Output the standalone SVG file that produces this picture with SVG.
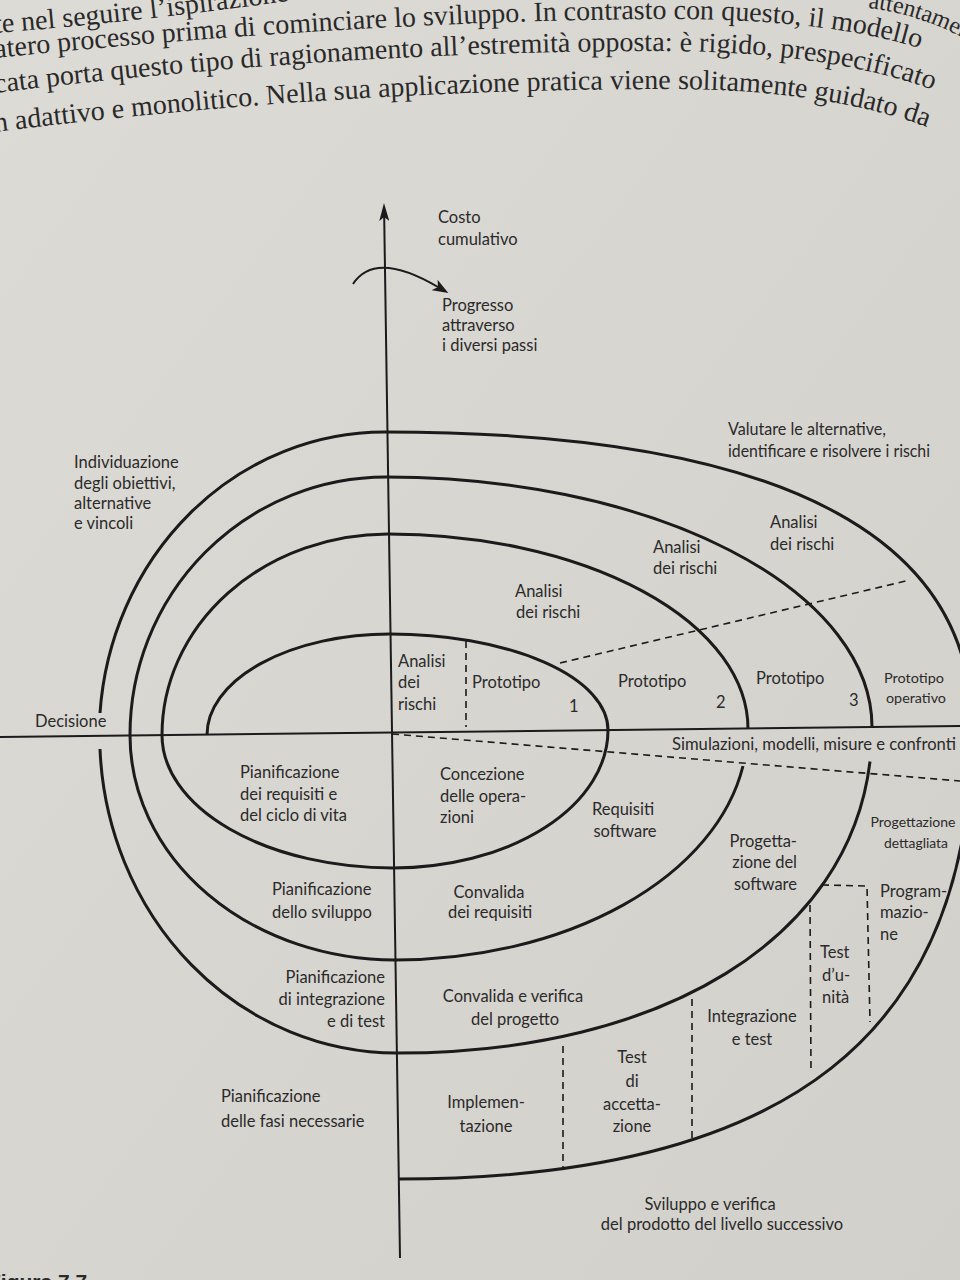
<svg xmlns="http://www.w3.org/2000/svg" width="960" height="1280" viewBox="0 0 960 1280">
<defs>
<style>
.spiral{fill:none;stroke:#1c1b1b;stroke-width:3}
.axis{fill:none;stroke:#1c1b1b;stroke-width:2}
.dash{fill:none;stroke:#1c1b1b;stroke-width:1.6;stroke-dasharray:7 5}
.lbl{font-family:Lato,"Open Sans","DejaVu Sans",sans-serif;font-size:16.5px;fill:#2b2a2a}
.sm{font-size:14px}
.mid{text-anchor:middle}
.end{text-anchor:end}
.book{font-family:"Liberation Serif","DejaVu Serif",serif;font-size:28px;fill:#2a2929}
.fig{font-family:"Liberation Sans",sans-serif;font-weight:bold;font-size:21px;fill:#2a2929}
</style>
<linearGradient id="paper" x1="0" y1="0" x2="1" y2="1">
<stop offset="0" stop-color="#dddbd6"/>
<stop offset="1" stop-color="#d2d0cb"/>
</linearGradient>
<marker id="axhead" viewBox="0 0 18 10" markerWidth="18" markerHeight="10" refX="4" refY="5" orient="auto" markerUnits="userSpaceOnUse">
<path d="M0,0 L18,5 L0,10 L4,5 z" fill="#1c1b1b"/>
</marker>
<marker id="cvhead" viewBox="0 0 16 12" markerWidth="16" markerHeight="12" refX="4" refY="6" orient="auto" markerUnits="userSpaceOnUse">
<path d="M0,0 L16,6 L0,12 L4,6 z" fill="#1c1b1b"/>
</marker>
<path id="bl1" d="M-5,33 Q150,21 330,-5"/>
<path id="bl1r" d="M868,8 Q925,14 985,50"/>
<path id="bl2" d="M-5,58 Q350,22 650,19 Q880,17 975,72"/>
<path id="bl3" d="M-5,93 Q330,52 650,51 Q860,50 975,108"/>
<path id="bl4" d="M-5,132 Q330,90 660,89 Q860,88 975,148"/>
</defs>
<rect width="960" height="1280" fill="url(#paper)"/>

<g id="book-text" class="book">
<text><textPath href="#bl1">te nel seguire l’ispirazione</textPath></text>
<text style="font-size:24px"><textPath href="#bl1r">attentamente</textPath></text>
<text><textPath href="#bl2">atero processo prima di cominciare lo sviluppo. In contrasto con questo, il modello</textPath></text>
<text><textPath href="#bl3">cata porta questo tipo di ragionamento all’estremità opposta: è rigido, prespecificato</textPath></text>
<text><textPath href="#bl4">n adattivo e monolitico. Nella sua applicazione pratica viene solitamente guidato da</textPath></text>
</g>

<g id="axes">
<line class="axis" x1="0" y1="737" x2="960" y2="726"/>
<line class="axis" x1="400" y1="1258" x2="384.2" y2="217" marker-end="url(#axhead)"/>
<path class="axis" d="M353,284 Q375,250 438,287" stroke-width="2.5" marker-end="url(#cvhead)"/>
</g>

<g id="spiral">
<path class="spiral" d="M207,735 A183,101 0 0 1 390,634 A218,96 0 0 1 608,730 A215,138 0 0 1 393,868 A231,133 0 0 1 162,735 A226,201 0 0 1 388,534 A360,195 0 0 1 748,729"/>
<path class="spiral" d="M743,766 A353,231 0 0 1 395,960 A265,225 0 0 1 130,735 A256,258 0 0 1 386,477 A486,250 0 0 1 872,727"/>
<path class="spiral" d="M870,761.5 C848.9,937.8 664.9,1053 397,1053 A297,318 0 0 1 100,749"/>
<path class="spiral" d="M100,713 A285,303 0 0 1 385,432 C808,432 972,550 972,727 C972,1034 788,1179 398,1179"/>
</g>

<g id="dividers">
<line class="dash" x1="560" y1="663" x2="910" y2="580"/>
<line class="dash" x1="392" y1="734" x2="960" y2="781"/>
<line class="dash" x1="466" y1="641" x2="466" y2="727"/>
<line class="dash" x1="563" y1="1046" x2="563" y2="1168"/>
<line class="dash" x1="692" y1="999" x2="692" y2="1138"/>
<line class="dash" x1="810" y1="905" x2="811" y2="1071"/>
<path class="dash" d="M822,885 L867,886 L870,1022"/>
</g>

<g id="label-costo" class="lbl"><text x="438" y="223">Costo</text><text x="438" y="245">cumulativo</text></g>
<g id="label-progresso" class="lbl"><text x="442" y="311">Progresso</text><text x="442" y="331">attraverso</text><text x="442" y="351">i diversi passi</text></g>
<g id="label-individuazione" class="lbl"><text x="74" y="468">Individuazione</text><text x="74" y="489">degli obiettivi,</text><text x="74" y="509">alternative</text><text x="74" y="529">e vincoli</text></g>
<g id="label-valutare" class="lbl"><text x="728" y="435" textLength="158" lengthAdjust="spacingAndGlyphs">Valutare le alternative,</text><text x="728" y="457" textLength="202" lengthAdjust="spacingAndGlyphs">identificare e risolvere i rischi</text></g>
<g id="label-analisi-4" class="lbl"><text x="770" y="528">Analisi</text><text x="770" y="550">dei rischi</text></g>
<g id="label-analisi-3" class="lbl"><text x="653" y="553">Analisi</text><text x="653" y="574">dei rischi</text></g>
<g id="label-analisi-2" class="lbl"><text x="515" y="597">Analisi</text><text x="516" y="618">dei rischi</text></g>
<g id="label-analisi-1" class="lbl"><text x="398" y="667">Analisi</text><text x="398" y="688">dei</text><text x="398" y="710">rischi</text></g>
<g id="label-prototipo-1" class="lbl"><text x="472" y="688">Prototipo</text><text x="569" y="712">1</text></g>
<g id="label-prototipo-2" class="lbl"><text x="618" y="687">Prototipo</text><text x="716" y="708">2</text></g>
<g id="label-prototipo-3" class="lbl"><text x="756" y="684">Prototipo</text><text x="849" y="706">3</text></g>
<g id="label-prototipo-operativo" class="lbl sm"><text class="mid" x="914" y="683" textLength="60" lengthAdjust="spacingAndGlyphs">Prototipo</text><text class="mid" x="916" y="703" textLength="60" lengthAdjust="spacingAndGlyphs">operativo</text></g>
<g id="label-simulazioni" class="lbl"><text x="672" y="750" textLength="284" lengthAdjust="spacingAndGlyphs">Simulazioni, modelli, misure e confronti</text></g>
<g id="label-decisione" class="lbl"><text x="35" y="727">Decisione</text></g>
<g id="label-pian-requisiti" class="lbl"><text x="240" y="778">Pianificazione</text><text x="240" y="800">dei requisiti e</text><text x="240" y="821">del ciclo di vita</text></g>
<g id="label-concezione" class="lbl"><text x="440" y="780">Concezione</text><text x="440" y="802">delle opera-</text><text x="440" y="823">zioni</text></g>
<g id="label-requisiti-sw" class="lbl"><text class="mid" x="623" y="815">Requisiti</text><text class="mid" x="625" y="837">software</text></g>
<g id="label-progettazione-sw" class="lbl"><text class="end" x="797" y="847">Progetta-</text><text class="end" x="797" y="868">zione del</text><text class="end" x="797" y="890">software</text></g>
<g id="label-progettazione-dett" class="lbl sm"><text class="mid" x="913" y="827" textLength="85" lengthAdjust="spacingAndGlyphs">Progettazione</text><text class="mid" x="916" y="848" textLength="64" lengthAdjust="spacingAndGlyphs">dettagliata</text></g>
<g id="label-programmazione" class="lbl"><text x="880" y="897">Program-</text><text x="880" y="918">mazio-</text><text x="880" y="940">ne</text></g>
<g id="label-test-unita" class="lbl"><text x="820" y="958">Test</text><text x="822" y="981">d’u-</text><text x="822" y="1003">nità</text></g>
<g id="label-integrazione" class="lbl"><text class="mid" x="752" y="1022">Integrazione</text><text class="mid" x="752" y="1045">e test</text></g>
<g id="label-convalida-req" class="lbl"><text class="mid" x="489" y="898">Convalida</text><text class="mid" x="490" y="918">dei requisiti</text></g>
<g id="label-convalida-prog" class="lbl"><text class="mid" x="513" y="1002">Convalida e verifica</text><text class="mid" x="515" y="1025">del progetto</text></g>
<g id="label-pian-sviluppo" class="lbl"><text x="272" y="895">Pianificazione</text><text x="272" y="918">dello sviluppo</text></g>
<g id="label-pian-integrazione" class="lbl"><text class="end" x="385" y="983">Pianificazione</text><text class="end" x="385" y="1005">di integrazione</text><text class="end" x="385" y="1027">e di test</text></g>
<g id="label-pian-fasi" class="lbl"><text x="221" y="1102">Pianificazione</text><text x="221" y="1127">delle fasi necessarie</text></g>
<g id="label-implementazione" class="lbl"><text class="mid" x="486" y="1108">Implemen-</text><text class="mid" x="486" y="1132">tazione</text></g>
<g id="label-test-accettazione" class="lbl"><text class="mid" x="632" y="1063">Test</text><text class="mid" x="632" y="1087">di</text><text class="mid" x="632" y="1110">accetta-</text><text class="mid" x="632" y="1132">zione</text></g>
<g id="label-sviluppo" class="lbl"><text class="mid" x="710" y="1210">Sviluppo e verifica</text><text class="mid" x="722" y="1230">del prodotto del livello successivo</text></g>

<g id="caption" class="fig"><text x="-12" y="1289">Figura 7.7</text></g>
</svg>
